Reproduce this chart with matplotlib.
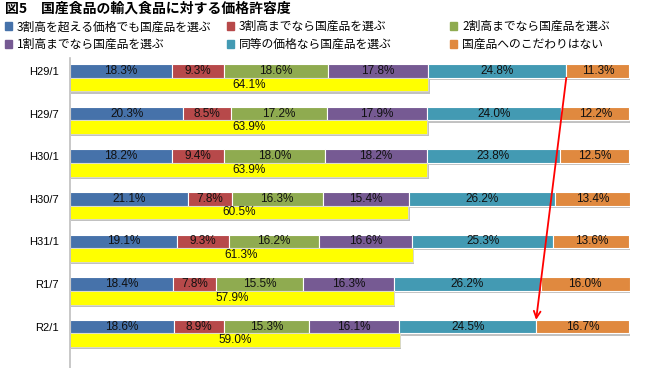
import numpy as np
import matplotlib
matplotlib.use('Agg')
import matplotlib.pyplot as plt
import matplotlib.patches as mpatches
import matplotlib.patheffects as pe

plt.rcParams['font.family'] = ['Noto Sans CJK JP', 'DejaVu Sans']

periods = ['H29/1', 'H29/7', 'H30/1', 'H30/7', 'H31/1', 'R1/7', 'R2/1']
series = ['3割高を超える価格でも国産品を選ぶ', '3割高までなら国産品を選ぶ',
          '2割高までなら国産品を選ぶ', '1割高までなら国産品を選ぶ',
          '同等の価格なら国産品を選ぶ', '国産品へのこだわりはない']
over30 = [18.3, 20.3, 18.2, 21.1, 19.1, 18.4, 18.6]
upto30 = [9.3, 8.5, 9.4, 7.8, 9.3, 7.8, 8.9]
upto20 = [18.6, 17.2, 18.0, 16.3, 16.2, 15.5, 15.3]
upto10 = [17.8, 17.9, 18.2, 15.4, 16.6, 16.3, 16.1]
same = [24.8, 24.0, 23.8, 26.2, 25.3, 26.2, 24.5]
nopref = [11.3, 12.2, 12.5, 13.4, 13.6, 16.0, 16.7]
total_pref = [64.1, 63.9, 63.9, 60.5, 61.3, 57.9, 59.0]

colors = ['#4672AA', '#B7494A', '#8FAB50', '#765A93', '#439AB3', '#E0893F']

fig = plt.figure(figsize=(6.5, 3.68), dpi=100)
ax = fig.add_axes([70 / 650, 0, 560 / 650, 310 / 368])

y = np.arange(len(periods))
h = 0.32
shadow = [pe.SimplePatchShadow(offset=(1, -1.5), shadow_rgbFace='#999999', alpha=0.6), pe.Normal()]

data = [over30, upto30, upto20, upto10, same, nopref]
left = np.zeros(len(periods))
for vals, c in zip(data, colors):
    vals = np.array(vals)
    ax.barh(y - h / 2, vals, left=left, height=h, color=c,
            edgecolor='white', linewidth=0.8, path_effects=shadow)
    for yi, l, v in zip(y, left, vals):
        ax.text(l + v / 2, yi - h / 2, f'{v:.1f}%', ha='center', va='center',
                fontsize=8.5, family='Liberation Sans', color='#111111')
    left = left + vals

ax.barh(y + h / 2, total_pref, height=h, color='#FFFF00',
        edgecolor='#D8D8D8', linewidth=0.6, path_effects=shadow)
for yi, v in zip(y, total_pref):
    ax.text(v / 2, yi + h / 2, f'{v:.1f}%', ha='center', va='center',
            fontsize=8.5, family='Liberation Sans', color='#111111')

# arrow: end of "same price" segment, first period -> last period
cum5 = np.array(over30) + upto30 + upto20 + upto10 + same
ax.annotate('', xy=(cum5[-1], y[-1] - h), xytext=(cum5[0], y[0]),
            arrowprops=dict(arrowstyle='->', color='#FF0000', lw=1.3,
                            shrinkA=0, shrinkB=0, mutation_scale=12))

ax.set_xlim(0, 100.2)
ax.set_ylim(6.81, -0.465)
ax.set_yticks(y - h / 2)
ax.set_yticklabels(periods, fontsize=8, family='Liberation Sans')
ax.tick_params(axis='y', length=0, pad=8)
ax.set_xticks([])
for s in ['top', 'right', 'bottom']:
    ax.spines[s].set_visible(False)
ax.spines['left'].set_color('#BFBFBF')
ax.spines['left'].set_linewidth(1.2)

fig.text(5 / 650, 1 - 9 / 368, '図5　国産食品の輸入食品に対する価格許容度', fontsize=10,
         fontweight='bold', va='center', ha='left')

handles = [mpatches.Patch(color=c) for c in colors]
cols_x = [-3 / 650, 219 / 650, 442 / 650]
for k, cx in enumerate(cols_x):
    idx = [k, k + 3]
    fig.legend([handles[i] for i in idx], [series[i] for i in idx],
               loc='upper left', bbox_to_anchor=(cx, 1 - 12 / 368), frameon=False,
               fontsize=8.5, handlelength=0.6, handleheight=0.6, handletextpad=0.4,
               labelspacing=0.4, borderpad=0.2)

fig.savefig('out.png', dpi=100)
